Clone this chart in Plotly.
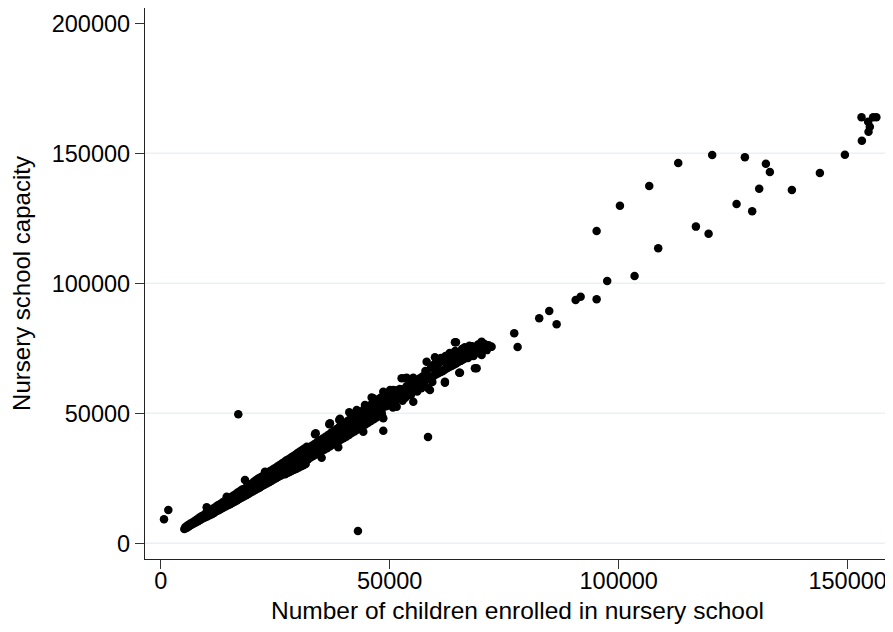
import plotly.graph_objects as go

# ---- data (enrolled children, nursery capacity) ----
# dense band, lower/upper alternating rows
band_x = [
    5150, 5400, 5650, 5900, 6150, 6400, 6650, 6900, 7150, 7400, 7650, 7900, 8150, 8400, 8650, 8900, 9150, 9400, 9650, 9900,
    10150, 10400, 10650, 10900, 11150, 11400, 11650, 11900, 12150, 12400, 12650, 12900, 13150, 13400, 13650, 13900,
    14150, 14650, 14900, 15150, 15400, 15650, 15900, 16150, 16400, 16650, 16900, 17150, 17400, 17650, 17900, 18150,
    18650, 18900, 19150, 19400, 19650, 19900,
    20150, 20400, 20650, 20900, 21150, 21400, 21650, 21900, 22150, 22400, 22650, 22900, 23150, 23400, 23650, 23900,
    24150, 24400, 24650, 24900, 25150, 25400, 25650, 25900, 26150, 26400, 26650, 26900, 27150, 27400, 27650, 27900,
    28150, 28400, 28650, 28900, 29150, 29400, 29650, 29900, 30150, 30400, 30650, 30900, 31150, 31400, 31650, 31900,
    32150, 32400, 32700, 33000, 33300, 33600, 33900, 34200, 34500, 34800, 35100, 35400, 35700, 36000, 36300, 36600,
    36900, 37200, 37500, 37800, 38100, 38400, 38700, 39000, 39300, 39600, 39900, 40200, 40500, 40800, 41100, 41400,
    41700, 42000, 42300, 42600, 42900, 43200, 43500, 43800, 44100, 44400, 44700, 45000, 45300, 45600, 45900, 46200,
    46500, 46800, 47100, 47400, 47700, 48000, 48300,
]
band_y = [
    5500, 6300, 5900, 6900, 6500, 7500, 7000, 8000, 7500, 8600, 8000, 9200, 8500, 9800, 9000, 10400, 9500, 10900, 9900, 11600,
    10300, 12200, 10800, 12800, 11200, 13300, 11700, 13900, 12300, 14500, 12700, 15000, 13200, 15600, 13700, 16200,
    14200, 14600, 17200, 15000, 17800, 15500, 18400, 16000, 19000, 16500, 19600, 17000, 20200, 17500, 20800, 18000,
    18500, 22000, 19000, 22500, 19500, 23000,
    20000, 23800, 20500, 24400, 21000, 25000, 21500, 25500, 22000, 26000, 22500, 26600, 23000, 27200, 23500, 27800,
    24000, 28300, 24500, 28900, 25000, 29400, 25500, 30000, 26000, 30600, 26500, 31200, 26600, 31800, 27000, 32300,
    27400, 32900, 27900, 33500, 28300, 34100, 28700, 34700, 29200, 35300, 29600, 35900, 30000, 36500, 30500, 37100,
    32200, 36800, 33000, 37500, 33600, 38200, 34200, 39000, 34800, 39600, 35400, 40300, 36000, 41000, 36600, 41700,
    37200, 42500, 37900, 43200, 38500, 44000, 39100, 44700, 39800, 45400, 40400, 46200, 41000, 47000, 41700, 47700,
    42400, 48400, 43000, 49200, 43700, 50000, 44400, 50700, 45000, 51500, 45700, 52200, 46400, 53000, 47000, 53700,
    47700, 54500, 48400, 55200, 49000, 56000, 49700,
]

# middle of the band
mid_x = [
    15000, 15500, 16000, 16500, 17000, 17500, 18000, 18500, 19000, 19500, 20000, 20500, 21000, 21500, 22000, 22500,
    23000, 23500, 24000, 24500, 25000, 25500, 26000, 26500, 27000, 27500, 28000, 28500, 29000, 29500, 30000, 30500,
    31000, 31500, 32000, 32500, 33000, 33500, 34000, 34500, 35000, 35500, 36000, 36500, 37000, 37500, 38000, 38500,
    39000, 39500, 40000, 40500, 41000, 41500, 42000, 42500, 43000, 43500, 44000, 44500, 45000, 45500, 46000, 46500,
    47000, 47500, 48000, 48500,
    49000, 49500, 50000, 50500, 51000, 51500, 52000, 52500, 53000, 53500, 54000, 54500, 55000, 55500, 56000, 56500,
    57000, 57500, 58000, 58500, 59000, 59500, 60000, 60500, 61000, 61500, 62000, 62500, 63000, 63500, 64000, 64500,
    65000, 65500, 66000, 66500, 67000, 67500, 68000, 68500, 69000, 69500, 70000, 70500,
    32250, 33250, 34250, 35250, 36250, 37250, 38250, 39250, 40250, 41250, 42250, 43250, 44250, 45250, 46250, 47250, 48250,
]
mid_y = [
    16500, 17000, 17600, 18100, 18600, 19100, 19700, 20200, 20700, 21200, 21700, 22300, 22800, 23300, 23800, 24400,
    24900, 25400, 25900, 26500, 27000, 27500, 28000, 28600, 29100, 29600, 30100, 30700, 31200, 31700, 32200, 32800,
    33300, 33800, 34300, 34900, 35500, 36000, 36600, 37200, 37800, 38400, 39000, 39600, 40100, 40700, 41300, 41900,
    42500, 43100, 43600, 44200, 44800, 45400, 46000, 46600, 47100, 47700, 48300, 48900, 49500, 50100, 50600, 51200,
    51800, 52400, 53000, 53500,
    54000, 54500, 55000, 55500, 56000, 56500, 57000, 57400, 57900, 58400, 58900, 59400, 59900, 60400, 60900, 61400,
    61900, 62400, 62900, 63300, 63800, 64300, 64800, 65300, 65800, 66300, 66800, 67300, 67800, 68200, 68700, 69200,
    69700, 70200, 70700, 71200, 71700, 72200, 72700, 73100, 73600, 74100, 74600, 75000,
    32900, 34000, 35200, 36400, 37500, 38700, 39800, 41000, 42100, 43300, 44500, 45600, 46800, 47900, 49100, 50300, 51400,
]

# bumps on the band edges
edge_x = [10040, 14400, 18400, 22770, 26760, 33690, 33840, 36800, 36960, 38990, 39140, 41170, 42790, 44600, 46060,
          46410, 35140, 38770, 44230, 31500]
edge_y = [13850, 17920, 24350, 27540, 30770, 41920, 42300, 45770, 46150, 47420, 47920, 50380, 51270, 53190, 56080,
          55770, 32930, 36920, 42920, 32690]

# upper part of the band (50k-72k)
upper_x = [
    48600, 48600, 48900, 49200, 49500, 49800, 50100, 50400, 50780, 50700, 51000, 51300, 51520, 51600, 51900, 52200,
    52600, 52500, 52800, 52960, 53330, 53100, 53400, 53700, 53700, 54000, 54300, 54600, 54900, 55150, 55150, 55400,
    55700, 56000, 56300, 56600, 56980, 56900, 57200, 57500, 57800, 58070, 58070, 58420, 58790, 58700, 59000, 59300,
    59600, 59880, 60000, 60300, 60600, 60900, 61200, 61500, 61800, 62060, 62060, 62200, 62500, 62800, 63100, 63400,
    63700, 64000, 64250, 64470, 64300, 64600, 65000, 65190, 65340, 65500, 65800, 66100, 66400, 66800, 67100, 67400,
    67700, 68000, 68300, 68610, 68980, 69000, 69300, 69600, 70070, 70070, 70070, 70400, 70800, 71200, 71600, 72100, 72250,
]
upper_y = [
    58310, 48080, 56000, 52700, 57600, 54500, 59000, 55800, 58960, 52200, 57200, 54700, 52540, 58900, 56100, 59300,
    63460, 57400, 54800, 59230, 63460, 58300, 56000, 63700, 60400, 58000, 61300, 56900, 62000, 63690, 54460, 59700,
    62600, 58400, 61200, 63460, 62810, 59600, 64200, 61000, 66300, 65380, 69840, 59630, 58960, 63800, 67500, 62000,
    68700, 71540, 65200, 70200, 67000, 69500, 71300, 66200, 70600, 62150, 61770, 72000, 68300, 71000, 73200, 69600,
    72400, 70300, 77300, 77300, 74000, 71800, 73500, 65610, 65610, 70200, 74700, 72300, 75400, 74340, 71300, 76000,
    73600, 75800, 72000, 67300, 67300, 74200, 76500, 73300, 77540, 77300, 72420, 75200, 76600, 74300, 76200, 75600, 75600,
]

# isolated points
other_x = [
    720, 1660, 16940, 43070, 48600, 58370,
    77190, 77930, 82650, 84840, 86450, 90600, 91690, 95180, 95180, 97490, 100270, 103470, 106670, 108630, 113000,
    116860, 119630, 120420, 125740, 127550, 129150, 130680, 132140, 133010, 137820, 143930, 149390, 153100, 154550,
    153020, 155560, 154470, 154840, 156260,
]
other_y = [
    9230, 12800, 49600, 4730, 43300, 40900,
    80770, 75500, 86530, 89340, 84230, 93570, 94840, 93840, 120100, 100880, 129850, 102800, 137400, 113450, 146250,
    121800, 119100, 149350, 130500, 148450, 127700, 136400, 146000, 142800, 135900, 142400, 149460, 154850, 158300,
    163840, 163840, 162150, 160230, 163840,
]

enrolled = band_x + mid_x + edge_x + upper_x + other_x
capacity = band_y + mid_y + edge_y + upper_y + other_y

x_ticks = [0, 50000, 100000, 150000]
y_ticks = [0, 50000, 100000, 150000, 200000]
grid_levels = [0, 50000, 100000, 150000]

x_title = "Number of children enrolled in nursery school"
y_title = "Nursery school capacity"

FONT = "Liberation Sans, Arial, Helvetica, sans-serif"

fig = go.Figure()
fig.add_trace(go.Scatter(
    x=enrolled, y=capacity, mode="markers",
    marker=dict(color="black", size=8.5, line=dict(width=0)),
    showlegend=False, hoverinfo="x+y",
))

for g in grid_levels:
    fig.add_shape(type="line", xref="paper", x0=0, x1=1, yref="y", y0=g, y1=g,
                  line=dict(color="#eaf1f3", width=1.6), layer="below")

# the page body has an 8px margin, so the figure is 8px smaller on each side
fig.update_layout(
    width=885, height=624,
    margin=dict(l=137, r=3, t=0, b=73),
    paper_bgcolor="white", plot_bgcolor="white",
    font=dict(family=FONT, color="black"),
)
fig.update_xaxes(
    range=[-3430, 159240], tickvals=x_ticks, ticktext=[str(v) for v in x_ticks],
    showgrid=False, zeroline=False, showline=True, linecolor="#222", linewidth=1.3,
    ticks="outside", ticklen=9, tickwidth=1.2, tickcolor="#333",
    ticklabelstandoff=-8,
    tickfont=dict(size=23.5, family=FONT, color="black"),
    title=dict(text=x_title, font=dict(size=24.5, family=FONT, color="black"), standoff=8),
)
fig.update_yaxes(
    range=[-6040, 205885], tickvals=y_ticks, ticktext=[str(v) for v in y_ticks],
    showgrid=False, zeroline=False, showline=True, linecolor="#222", linewidth=1.3,
    ticks="outside", ticklen=9, tickwidth=1.2, tickcolor="#333",
    tickfont=dict(size=23.5, family=FONT, color="black"),
    title=dict(text=y_title, font=dict(size=24, family=FONT, color="black"), standoff=16),
)

fig.write_html("out.html")
